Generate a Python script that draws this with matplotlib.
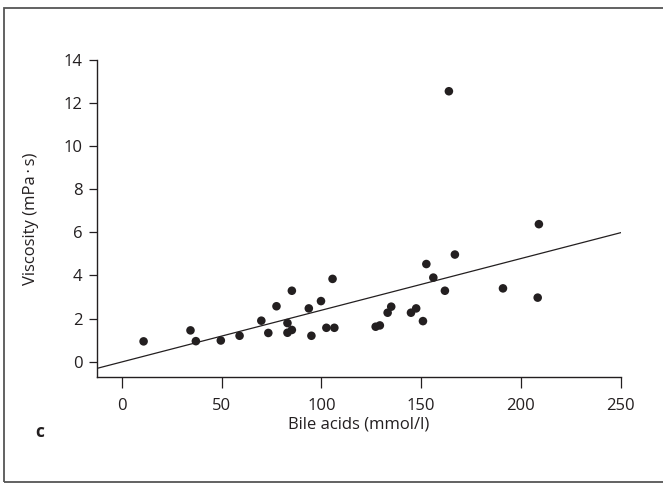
import matplotlib
matplotlib.use("Agg")
import matplotlib.pyplot as plt
from matplotlib.patches import Rectangle

plt.rcParams["font.family"] = ["Open Sans", "DejaVu Sans"]

# Bile acids (mmol/l) vs viscosity (mPa·s)
bile_acids = [10.9, 34.4, 37.1, 49.6, 59.0, 69.9, 73.4, 77.5, 83.0, 83.0,
              85.2, 85.2, 93.7, 95.0, 99.8, 102.5, 106.5, 105.6, 127.2, 129.3,
              133.2, 135.0, 144.9, 147.5, 150.9, 152.6, 156.1, 161.9, 163.9,
              166.9, 191.0, 208.4, 209.0]
viscosity = [0.94, 1.45, 0.95, 0.98, 1.20, 1.90, 1.33, 2.57, 1.79, 1.34,
             1.47, 3.29, 2.47, 1.20, 2.81, 1.57, 1.57, 3.84, 1.62, 1.68,
             2.27, 2.55, 2.27, 2.47, 1.88, 4.53, 3.90, 3.29, 12.55,
             4.97, 3.40, 2.97, 6.38]

# regression line
fit_slope = 0.024
fit_intercept = -0.015

xticks = [0, 50, 100, 150, 200, 250]
yticks = [0, 2, 4, 6, 8, 10, 12, 14]

ink = "#231f20"

fig = plt.figure(figsize=(6.63, 4.84), dpi=100)
ax = fig.add_axes([96.5 / 663, (484 - 376.7) / 484, (620.7 - 96.5) / 663, (376.7 - 60) / 484])

xmin, xmax = -12.7, 250
ax.set_xlim(xmin, xmax)
ax.set_ylim(-0.7, 14)

ax.scatter(bile_acids, viscosity, s=38, color=ink, edgecolors="none", zorder=3)
ax.plot([xmin, xmax], [fit_intercept + fit_slope * xmin, fit_intercept + fit_slope * xmax],
        color=ink, lw=0.9)

for side in ["top", "right"]:
    ax.spines[side].set_visible(False)
for side in ["left", "bottom"]:
    ax.spines[side].set_color(ink)
    ax.spines[side].set_linewidth(1.0)

ax.set_xticks(xticks)
ax.set_yticks(yticks)
ax.tick_params(direction="out", length=6, width=0.9, color=ink, labelcolor=ink,
               labelsize=12, pad=4)
ax.tick_params(axis="x", length=8, pad=7)

ax.set_xlabel("Bile acids (mmol/l)", fontsize=12, color=ink, labelpad=2)
ax.set_ylabel("Viscosity (mPa\u2009·\u2009s)", fontsize=12, color=ink, labelpad=18)

fig.text(40 / 663, 1 - 432 / 484, "c", fontsize=12.5, fontweight="bold", color=ink,
         ha="center", va="center")

# outer frame
fig.patches.append(Rectangle((4 / 663, 2 / 484), 1.0, 474 / 484, transform=fig.transFigure,
                             fill=False, edgecolor="#555555", lw=1.3))

fig.savefig("out.png", dpi=100)
